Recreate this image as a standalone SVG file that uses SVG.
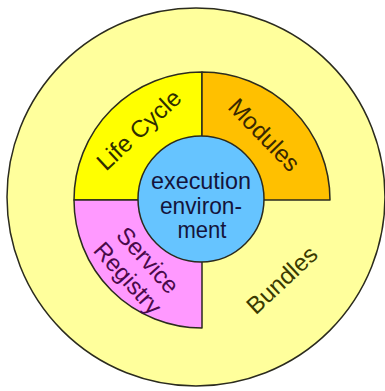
<svg xmlns="http://www.w3.org/2000/svg" width="385" height="391" viewBox="0 0 385 391">
<style>
.sh{stroke:#2b2b1e;stroke-width:1.5;stroke-linejoin:round}
.lbl{font-family:"Liberation Sans",Arial,sans-serif;font-size:24px;text-anchor:middle}
</style>
<rect width="385" height="391" fill="#ffffff"/>
<g id="bundles">
<circle class="sh" cx="196" cy="197" r="189" fill="#ffff9c"/>
<text class="lbl" fill="#3a3a00" transform="translate(282,280) rotate(-43)" y="8">Bundles</text>
</g>
<g id="life-cycle">
<path class="sh" d="M202,200 L74,200 A128,128 0 0 1 202,72 Z" fill="#ffff00"/>
<text class="lbl" fill="#2e2e00" transform="translate(139,130) rotate(-43)" y="8">Life Cycle</text>
</g>
<g id="modules">
<path class="sh" d="M202,200 L202,72 A128,128 0 0 1 330,200 Z" fill="#ffc000"/>
<text class="lbl" fill="#3a2800" transform="translate(264,135) rotate(46)" y="8">Modules</text>
</g>
<g id="service-registry">
<path class="sh" d="M202,200 L202,328 A128,128 0 0 1 74,200 Z" fill="#ff99ff"/>
<text class="lbl" fill="#4a0a4a" transform="translate(138,269) rotate(48)"><tspan x="0" y="-5">Service</tspan><tspan x="0" y="22">Registry</tspan></text>
</g>
<g id="execution-environment">
<circle class="sh" cx="201" cy="199" r="63" fill="#66c4ff"/>
<text class="lbl" fill="#14143c" font-size="21"><tspan x="201" y="189" textLength="100" lengthAdjust="spacingAndGlyphs">execution</tspan><tspan x="201" y="213.5" textLength="82" lengthAdjust="spacingAndGlyphs">environ-</tspan><tspan x="202" y="238" textLength="49" lengthAdjust="spacingAndGlyphs">ment</tspan></text>
</g>
<g id="connectors"/>
</svg>
